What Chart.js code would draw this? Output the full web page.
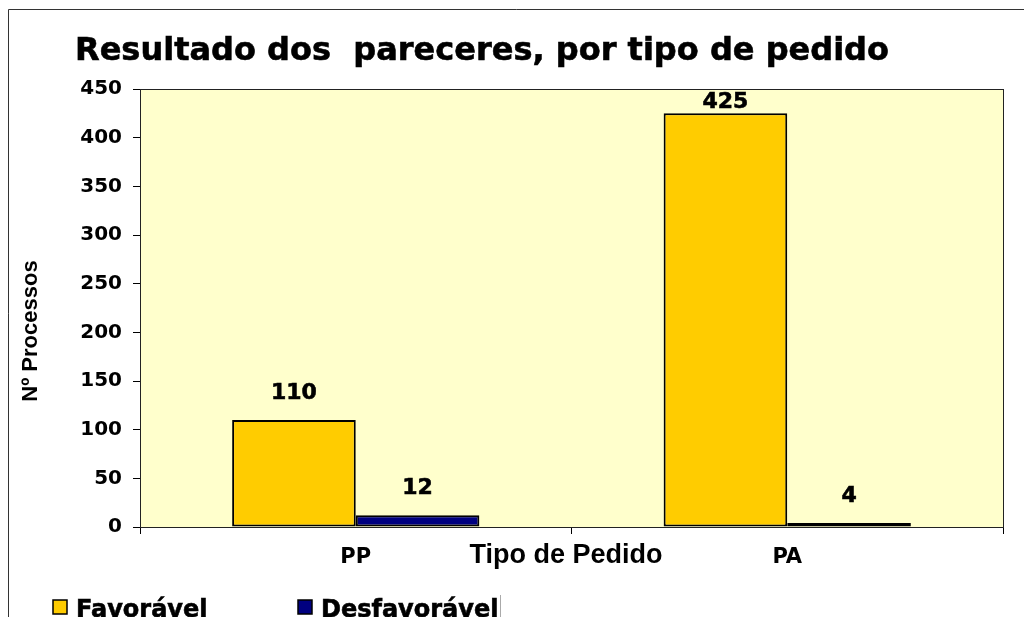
<!DOCTYPE html>
<html>
<head>
<meta charset="utf-8">
<script src="https://cdn.jsdelivr.net/npm/chart.js@4/dist/chart.umd.min.js"></script>
<style>
  html, body { margin: 0; padding: 0; background: #fff; }
  #wrap { width: 1024px; height: 617px; position: relative; }
</style>
</head>
<body>
<div id="wrap"><canvas id="c" width="1024" height="617"></canvas></div>
<script>
const categories = ['PP', 'PA'];
const favoravel = [110, 425];
const desfavoravel = [12, 4];
const seriesNames = ['Favorável', 'Desfavorável'];
const seriesColors = ['#FFCC00', '#000080'];
const yTicks = [0, 50, 100, 150, 200, 250, 300, 350, 400, 450];
const chartTitle = 'Resultado dos  pareceres, por tipo de pedido';
const xTitle = 'Tipo de Pedido';
const yTitle = 'Nº Processos';

const VERD = '"DejaVu Sans", Verdana, sans-serif';
const ARIAL = '"Liberation Sans", Arial, sans-serif';

function heavyText(ctx, text, x, y) {
  ctx.fillText(text, x, y);
  ctx.lineWidth = 0.6;
  ctx.strokeStyle = ctx.fillStyle;
  ctx.strokeText(text, x, y);
}

const decor = {
  id: 'decor',
  beforeDraw(chart) {
    const ctx = chart.ctx, a = chart.chartArea;
    ctx.save();
    ctx.fillStyle = '#fff';
    ctx.fillRect(0, 0, chart.width, chart.height);
    ctx.fillStyle = '#FFFFCC';
    ctx.fillRect(a.left, a.top, a.right - a.left, a.bottom - a.top);
    ctx.restore();
  },
  afterDraw(chart) {
    const ctx = chart.ctx, a = chart.chartArea;
    ctx.save();
    ctx.strokeStyle = '#222';
    ctx.lineWidth = 1;
    ctx.strokeRect(a.left + 0.5, a.top + 0.5, a.right - a.left, a.bottom - a.top);
    ctx.strokeStyle = '#333';
    ctx.beginPath();
    ctx.moveTo(8.5, 617); ctx.lineTo(8.5, 9.5); ctx.lineTo(1024, 9.5);
    ctx.stroke();
    ctx.strokeStyle = '#aaa';
    ctx.beginPath();
    ctx.moveTo(500.5, 595); ctx.lineTo(500.5, 617);
    ctx.stroke();
    ctx.fillStyle = '#000';
    ctx.textAlign = 'left';
    ctx.textBaseline = 'alphabetic';
    ctx.font = 'bold 32px ' + VERD;
    heavyText(ctx, chartTitle, 75, 60);
    ctx.font = 'bold 27px ' + ARIAL;
    ctx.textAlign = 'center';
    ctx.fillStyle = '#000';
    ctx.fillText(xTitle, 566, 563);
    ctx.save();
    ctx.translate(37, 331);
    ctx.rotate(-Math.PI / 2);
    ctx.font = 'bold 22px ' + ARIAL;
    ctx.textAlign = 'center';
    ctx.fillText(yTitle, 0, 0);
    ctx.restore();
    ctx.font = 'bold 24px ' + VERD;
    ctx.textAlign = 'left';
    const lx = [53, 298];
    chart.data.datasets.forEach((ds, i) => {
      ctx.fillStyle = ds.backgroundColor;
      ctx.fillRect(lx[i], 600, 14, 14);
      ctx.strokeStyle = '#000';
      ctx.lineWidth = 1.5;
      ctx.strokeRect(lx[i], 600, 14, 14);
      ctx.fillStyle = '#000';
      heavyText(ctx, ds.label, lx[i] + 23, 617);
    });
    ctx.restore();
  },
  afterDatasetsDraw(chart) {
    const ctx = chart.ctx, a = chart.chartArea;
    ctx.save();
    ctx.font = 'bold 22px ' + VERD;
    ctx.fillStyle = '#000';
    ctx.textAlign = 'center';
    ctx.textBaseline = 'alphabetic';
    chart.data.datasets.forEach((ds, di) => {
      chart.getDatasetMeta(di).data.forEach((bar, i) => {
        const y = Math.max(bar.y - 21, a.top + 19);
        heavyText(ctx, String(ds.data[i]), bar.x, y);
      });
    });
    ctx.restore();
  }
};

new Chart(document.getElementById('c'), {
  type: 'bar',
  data: {
    labels: categories,
    datasets: [
      { label: seriesNames[0], data: favoravel, backgroundColor: seriesColors[0], borderColor: '#000', borderWidth: 2, borderSkipped: false },
      { label: seriesNames[1], data: desfavoravel, backgroundColor: seriesColors[1], borderColor: '#000', borderWidth: 2, borderSkipped: false }
    ]
  },
  options: {
    responsive: false,
    animation: false,
    devicePixelRatio: 1,
    layout: { padding: { top: 89, right: 21, left: 0, bottom: 0 } },
    datasets: { bar: { categoryPercentage: 0.573, barPercentage: 1.0 } },
    plugins: { legend: { display: false }, title: { display: false }, tooltip: { enabled: false } },
    scales: {
      x: {
        grid: { offset: true, drawOnChartArea: false, drawTicks: true, tickLength: 7, color: '#000' },
        border: { display: true, color: '#000', width: 1 },
        ticks: { color: '#000', font: { family: VERD, size: 21, weight: 'bold' }, padding: 11 },
        afterFit(s) { s.height = 90; }
      },
      y: {
        min: 0, max: 450,
        afterBuildTicks(s) { s.ticks = yTicks.map(v => ({ value: v })); },
        grid: { drawOnChartArea: false, drawTicks: true, tickLength: 7, color: '#000' },
        border: { display: true, color: '#000', width: 1 },
        ticks: { color: '#000', font: { family: VERD, size: 20, weight: 'bold' }, padding: 11 },
        afterFit(s) { s.width = 140; }
      }
    }
  },
  plugins: [decor]
});
</script>
</body>
</html>
